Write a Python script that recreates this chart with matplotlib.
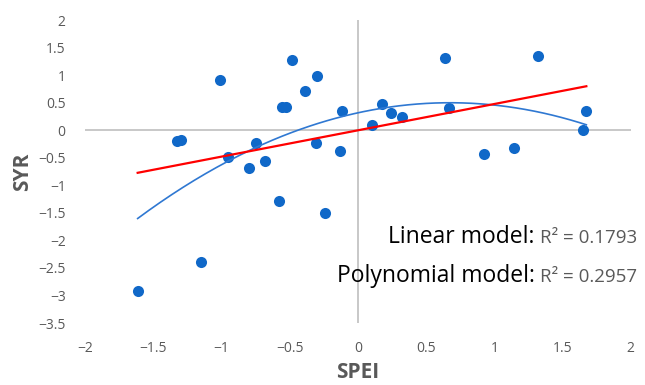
import matplotlib.pyplot as plt
import numpy as np

spei = [-1.615, -1.33, -1.30, -1.154, -1.015, -0.954, -0.80, -0.75, -0.685,
        -0.58, -0.555, -0.53, -0.482, -0.39, -0.31, -0.30, -0.243, -0.133,
        -0.12, 0.104, 0.174, 0.245, 0.32, 0.636, 0.67, 0.925, 1.147, 1.32,
        1.65, 1.674]
syr = [-2.91, -0.19, -0.17, -2.39, 0.92, -0.48, -0.68, -0.24, -0.555,
       -1.28, 0.42, 0.43, 1.28, 0.71, -0.24, 0.99, -1.51, -0.37,
       0.34, 0.096, 0.47, 0.32, 0.24, 1.31, 0.41, -0.44, -0.325, 1.34,
       0.0, 0.356]
x_ticks = [-2, -1.5, -1, -0.5, 0, 0.5, 1, 1.5, 2]
y_ticks = [-3.5, -3, -2.5, -2, -1.5, -1, -0.5, 0, 0.5, 1, 1.5, 2]
r2_linear = "0.1793"
r2_poly = "0.2957"

plt.rcParams["font.family"] = ["Open Sans", "DejaVu Sans"]
grey = "#595959"

fig = plt.figure(figsize=(6.45, 3.85), dpi=100)
ax = fig.add_axes([0.132, 0.161, 0.846, 0.787])

x = np.array(spei)
y = np.array(syr)
xs = np.linspace(x.min(), x.max(), 200)

lin = np.polyfit(x, y, 1)
poly = np.polyfit(x, y, 2)

ax.axhline(0, color="#BFBFBF", lw=1.2, zorder=1)
ax.axvline(0, color="#BFBFBF", lw=1.2, zorder=1)
ax.scatter(x, y, s=64, color="#1068C8", zorder=3, linewidths=0)
ax.plot(xs, np.polyval(poly, xs), color="#2F78D2", lw=1.2, zorder=4)
ax.plot(xs, np.polyval(lin, xs), color="#FF0000", lw=1.6, zorder=4)

ax.set_xlim(-2, 2)
ax.set_ylim(-3.5, 2)
ax.set_xticks(x_ticks)
ax.set_yticks(y_ticks)
ax.set_xticklabels([f"{t:g}".replace("-", "\u2212") for t in x_ticks])
ax.set_yticklabels([f"{t:g}".replace("-", "\u2212") for t in y_ticks])
ax.tick_params(axis="both", length=0, labelsize=10, colors=grey)
ax.tick_params(axis="x", pad=13)
ax.tick_params(axis="y", pad=14)
for s in ax.spines.values():
    s.set_visible(False)

ax.set_xlabel("SPEI", fontsize=15, fontweight="bold", color=grey, labelpad=4)
ax.set_ylabel("SYR", fontsize=15, fontweight="bold", color=grey, labelpad=4)

fig.text(0.829, 0.369, "Linear model:", ha="right", va="baseline",
         fontsize=16.5, color="black")
fig.text(0.837, 0.369, "R\u00b2 = " + r2_linear, ha="left", va="baseline",
         fontsize=13.5, color=grey)
fig.text(0.829, 0.267, "Polynomial model:", ha="right", va="baseline",
         fontsize=16.5, color="black")
fig.text(0.837, 0.267, "R\u00b2 = " + r2_poly, ha="left", va="baseline",
         fontsize=13.5, color=grey)

fig.savefig("out.png", dpi=100)
